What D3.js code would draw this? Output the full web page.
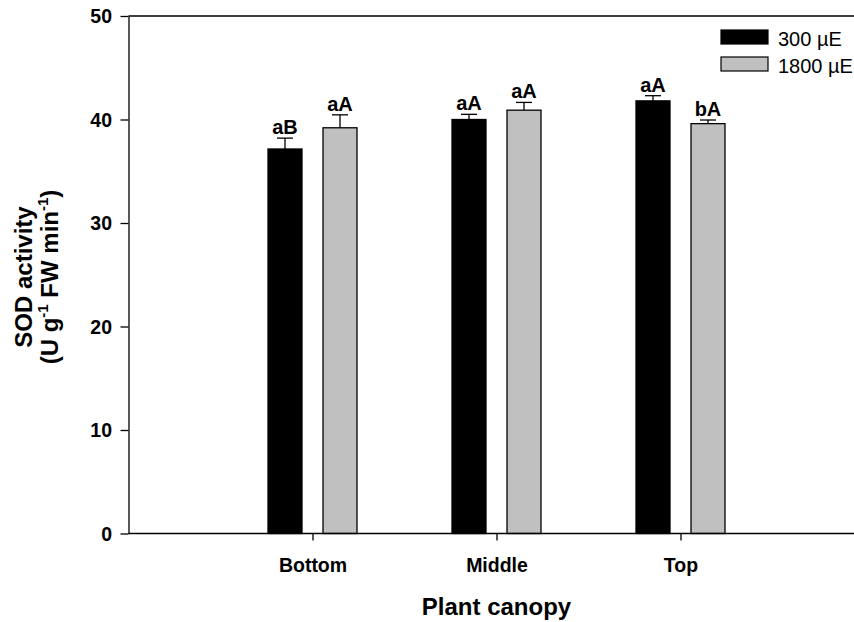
<!DOCTYPE html>
<html>
  <head>
    <meta charset="utf-8">
    <title>SOD activity</title>
    <script src="https://d3js.org/d3.v7.min.js"></script>
    <style>
      body { margin: 0; background: #fff; }
      svg { display: block; font-family: Arial, "Liberation Sans", sans-serif; }
    </style>
  </head>
  <body>
    <svg id="chart" width="854" height="622"></svg>
    <script>
      // data
      const categories = ["Bottom", "Middle", "Top"];
      const seriesNames = ["300 µE", "1800 µE"];
      const seriesColours = ["#000000", "#c0c0c0"];
      const low = [37.15, 40.0, 41.8];
      const lowErr = [1.05, 0.5, 0.5];
      const high = [39.2, 40.9, 39.6];
      const highErr = [1.25, 0.75, 0.35];
      const lowLetters = ["aB", "aA", "aA"];
      const highLetters = ["aA", "aA", "bA"];
      const yTicks = [0, 10, 20, 30, 40, 50];

      const series = [
        { values: low, errs: lowErr, letters: lowLetters },
        { values: high, errs: highErr, letters: highLetters }
      ];

      const svg = d3.select("#chart");
      const plotLeft = 128.5, plotTop = 16, plotBottom = 533.5;
      const fontFam = "Arial, 'Liberation Sans', sans-serif";

      const x = d3.scaleLinear().domain([0, 4]).range([plotLeft, plotLeft + 736]);
      const y = d3.scaleLinear().domain([0, 50]).range([plotBottom, plotTop]);
      const offset = d3.scaleBand().domain([0, 1]).range([-55, 55]).paddingInner(0.382).paddingOuter(0.191);
      const barW = offset.bandwidth();

      // top frame line
      svg.append("line")
        .attr("x1", plotLeft).attr("x2", 854)
        .attr("y1", plotTop).attr("y2", plotTop)
        .attr("stroke", "#000").attr("stroke-width", 1.3);

      // bars
      series.forEach(function(s, si) {
        const g = svg.append("g");
        s.values.forEach(function(v, i) {
          const cx = x(i + 1) + offset(si) + barW / 2;
          const yErr = y(v + s.errs[i]);
          // error bar
          g.append("line")
            .attr("x1", cx).attr("x2", cx)
            .attr("y1", y(v)).attr("y2", yErr)
            .attr("stroke", "#000").attr("stroke-width", 1.3);
          g.append("line")
            .attr("x1", cx - 8).attr("x2", cx + 8)
            .attr("y1", yErr).attr("y2", yErr)
            .attr("stroke", "#000").attr("stroke-width", 1.3);
          g.append("rect")
            .attr("x", cx - barW / 2)
            .attr("y", y(v))
            .attr("width", barW)
            .attr("height", y(0) - y(v))
            .attr("fill", seriesColours[si])
            .attr("stroke", "#000")
            .attr("stroke-width", 1.3);
          g.append("text")
            .attr("x", cx)
            .attr("y", yErr - 4)
            .attr("text-anchor", "middle")
            .attr("font-weight", "bold")
            .attr("font-size", 20)
            .text(s.letters[i]);
        });
      });

      // y axis
      const yAxis = d3.axisLeft(y).tickValues(yTicks).tickSize(8).tickSizeOuter(0);
      const yg = svg.append("g").attr("transform", "translate(" + plotLeft + ",0)").call(yAxis);
      yg.select(".domain").attr("stroke-width", 1.3);
      yg.selectAll(".tick line").attr("stroke-width", 1.3);
      yg.selectAll(".tick text")
        .attr("x", -16.5)
        .attr("dy", "0.35em")
        .attr("font-size", 19.5)
        .attr("font-weight", "bold")
        .attr("font-family", fontFam)
        .attr("fill", "#000");

      // x axis
      const xAxis = d3.axisBottom(x).tickValues([1, 2, 3])
        .tickFormat(function(d) { return categories[d - 1]; })
        .tickSize(7).tickSizeOuter(0);
      const xg = svg.append("g").attr("transform", "translate(0," + plotBottom + ")").call(xAxis);
      xg.select(".domain").attr("d", "M" + plotLeft + ",0H854").attr("stroke-width", 1.3);
      xg.selectAll(".tick line").attr("stroke-width", 1.3);
      xg.selectAll(".tick text")
        .attr("y", 38)
        .attr("dy", 0)
        .attr("font-size", 19.5)
        .attr("font-weight", "bold")
        .attr("font-family", fontFam)
        .attr("fill", "#000");

      // axis titles
      svg.append("text")
        .attr("x", x(2))
        .attr("y", 615)
        .attr("text-anchor", "middle")
        .attr("font-size", 24)
        .attr("font-weight", "bold")
        .text("Plant canopy");

      const yt = svg.append("text")
        .attr("transform", "translate(0,277) rotate(-90)")
        .attr("text-anchor", "middle")
        .attr("font-size", 24)
        .attr("font-weight", "bold");
      yt.append("tspan").attr("x", 0).attr("y", 32).text("SOD activity");
      const l2 = yt.append("tspan").attr("x", 0).attr("y", 58);
      l2.append("tspan").text("(U g");
      l2.append("tspan").attr("dy", -10).attr("font-size", 15).text("-1");
      l2.append("tspan").attr("dy", 10).text(" FW min");
      l2.append("tspan").attr("dy", -10).attr("font-size", 15).text("-1");
      l2.append("tspan").attr("dy", 10).text(")");

      // legend
      const legend = svg.append("g").attr("transform", "translate(721,30)");
      seriesNames.forEach(function(name, i) {
        legend.append("rect")
          .attr("x", 0).attr("y", i * 27)
          .attr("width", 47).attr("height", 14)
          .attr("fill", seriesColours[i])
          .attr("stroke", "#000").attr("stroke-width", 1.2);
        legend.append("text")
          .attr("x", 57).attr("y", i * 27 + 16)
          .attr("font-size", 20)
          .text(name);
      });
    </script>
  </body>
</html>
